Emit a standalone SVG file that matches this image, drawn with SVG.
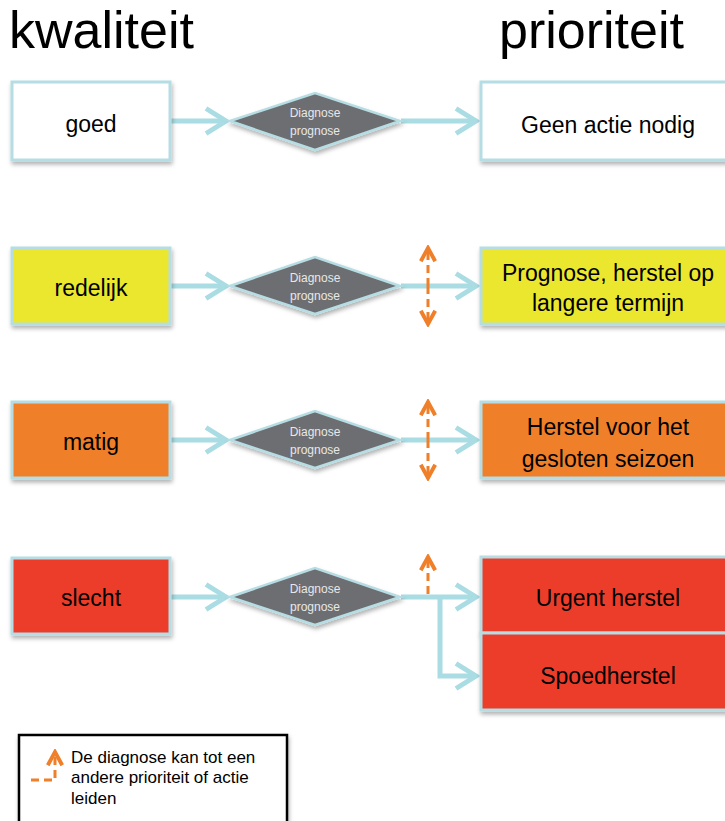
<svg xmlns="http://www.w3.org/2000/svg" width="725" height="821" viewBox="0 0 725 821">
<defs>
<style>
.box{stroke:#b5dde3;stroke-width:3}
.lbl{font-family:"Liberation Sans",Arial,sans-serif;font-size:23px;fill:#000;text-anchor:middle}
.dia{fill:#6d6e71;stroke:#b5dde3;stroke-width:2.5}
.dtxt{font-family:"Liberation Sans",Arial,sans-serif;font-size:12px;fill:#e8e8e8;text-anchor:middle}
.con{fill:none;stroke:#a9dce3;stroke-width:5}
.ora{fill:none;stroke:#f07f2a;stroke-width:3;stroke-dasharray:8 5}
.title{font-family:"Liberation Sans",Arial,sans-serif;font-size:52px;fill:#000}
.leg{font-family:"Liberation Sans",Arial,sans-serif;font-size:17px;fill:#000}
</style>
<marker id="ah" markerWidth="6" markerHeight="6" refX="4.5" refY="3" orient="auto" markerUnits="strokeWidth">
<path d="M0.5,0.5 L4.5,3 L0.5,5.5" fill="none" stroke="#a9dce3" stroke-width="1"/>
</marker>
<marker id="oh" markerWidth="6" markerHeight="6" refX="5" refY="3" orient="auto" markerUnits="strokeWidth">
<path d="M0.6,0.6 L5,3 L0.6,5.4" fill="none" stroke="#f07f2a" stroke-width="1.3"/>
</marker>
<filter id="sh" x="-10%" y="-10%" width="130%" height="130%">
<feDropShadow dx="1" dy="3" stdDeviation="2" flood-color="#000" flood-opacity="0.3"/>
</filter>
</defs>
<rect width="725" height="821" fill="#fff"/>
<text class="title" x="9" y="48">kwaliteit</text>
<text class="title" x="499" y="48">prioriteit</text>

<g id="connectors">
<line class="con" x1="171" y1="121" x2="226" y2="121" marker-end="url(#ah)"/>
<line class="con" x1="401" y1="121" x2="476" y2="121" marker-end="url(#ah)"/>
<line class="con" x1="171" y1="286" x2="226" y2="286" marker-end="url(#ah)"/>
<line class="con" x1="401" y1="286" x2="476" y2="286" marker-end="url(#ah)"/>
<line class="con" x1="171" y1="440" x2="226" y2="440" marker-end="url(#ah)"/>
<line class="con" x1="401" y1="440" x2="476" y2="440" marker-end="url(#ah)"/>
<line class="con" x1="171" y1="597" x2="226" y2="597" marker-end="url(#ah)"/>
<line class="con" x1="401" y1="597" x2="476" y2="597" marker-end="url(#ah)"/>
<polyline class="con" points="440,597 440,676 476,676" marker-end="url(#ah)"/>
<line class="ora" x1="428" y1="286" x2="428" y2="248" marker-end="url(#oh)"/>
<line class="ora" x1="428" y1="286" x2="428" y2="324" marker-end="url(#oh)"/>
<line class="ora" x1="428" y1="440" x2="428" y2="402" marker-end="url(#oh)"/>
<line class="ora" x1="428" y1="440" x2="428" y2="478" marker-end="url(#oh)"/>
<line class="ora" x1="428" y1="594" x2="428" y2="557" marker-end="url(#oh)"/>
</g>

<g id="goed"><rect class="box" x="12" y="82" width="158" height="78" fill="#fff" filter="url(#sh)"/><text class="lbl" x="91" y="132">goed</text></g>
<g id="redelijk"><rect class="box" x="12" y="248" width="158" height="76" fill="#ebe72f" filter="url(#sh)"/><text class="lbl" x="91" y="296">redelijk</text></g>
<g id="matig"><rect class="box" x="12" y="402" width="158" height="76" fill="#f07f2a" filter="url(#sh)"/><text class="lbl" x="91" y="450">matig</text></g>
<g id="slecht"><rect class="box" x="12" y="558" width="158" height="76" fill="#ec3c2a" filter="url(#sh)"/><text class="lbl" x="91" y="606">slecht</text></g>

<g id="diag1"><polygon class="dia" points="230,121 315,93 400,121 315,150" filter="url(#sh)"/><text class="dtxt" x="315" y="117">Diagnose</text><text class="dtxt" x="315" y="135">prognose</text></g>
<g id="diag2"><polygon class="dia" points="230,286 315,257 400,286 315,314" filter="url(#sh)"/><text class="dtxt" x="315" y="282">Diagnose</text><text class="dtxt" x="315" y="300">prognose</text></g>
<g id="diag3"><polygon class="dia" points="230,440 315,411 400,440 315,468" filter="url(#sh)"/><text class="dtxt" x="315" y="436">Diagnose</text><text class="dtxt" x="315" y="454">prognose</text></g>
<g id="diag4"><polygon class="dia" points="230,597 315,568 400,597 315,625" filter="url(#sh)"/><text class="dtxt" x="315" y="593">Diagnose</text><text class="dtxt" x="315" y="611">prognose</text></g>

<g id="geen"><rect class="box" x="481" y="82" width="250" height="78" fill="#fff" filter="url(#sh)"/><text class="lbl" x="608" y="133">Geen actie nodig</text></g>
<g id="prognose"><rect class="box" x="481" y="248" width="250" height="76" fill="#ebe72f" filter="url(#sh)"/><text class="lbl" x="608" y="281">Prognose, herstel op</text><text class="lbl" x="608" y="311">langere termijn</text></g>
<g id="herstel"><rect class="box" x="481" y="402" width="250" height="76" fill="#f07f2a" filter="url(#sh)"/><text class="lbl" x="608" y="435">Herstel voor het</text><text class="lbl" x="608" y="467">gesloten seizoen</text></g>
<g id="urgent"><rect class="box" x="481" y="557" width="250" height="76" fill="#ec3c2a" filter="url(#sh)"/><text class="lbl" x="608" y="606">Urgent herstel</text></g>
<g id="spoed"><rect class="box" x="481" y="633" width="250" height="77" fill="#ec3c2a" filter="url(#sh)"/><text class="lbl" x="608" y="684">Spoedherstel</text></g>

<g id="legend">
<rect x="19" y="735" width="268" height="92" fill="#fff" stroke="#000" stroke-width="2.5" filter="url(#sh)"/>
<polyline points="31,780 55,780 55,752" fill="none" stroke="#f07f2a" stroke-width="3" stroke-dasharray="8 5" marker-end="url(#oh)"/>
<text class="leg" x="71" y="763">De diagnose kan tot een</text>
<text class="leg" x="71" y="783">andere prioriteit of actie</text>
<text class="leg" x="71" y="804">leiden</text>
</g>
</svg>
